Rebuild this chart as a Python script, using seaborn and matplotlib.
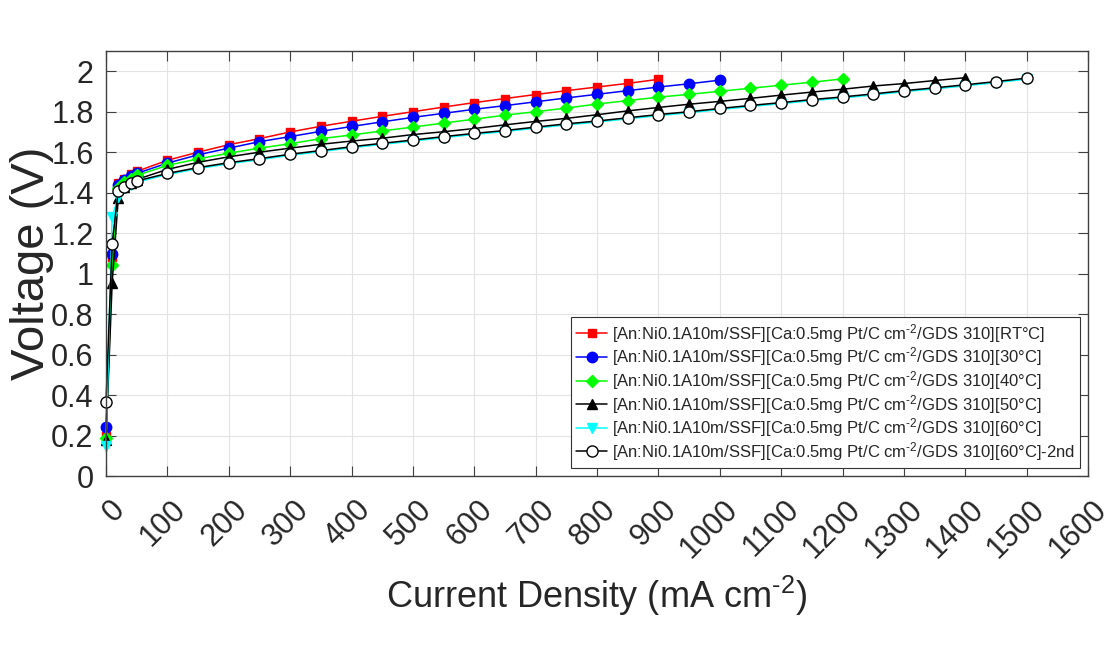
import matplotlib
matplotlib.use("Agg")
import matplotlib.pyplot as plt
import matplotlib.transforms as mtransforms
import seaborn as sns
import pandas as pd

# current density points (mA cm-2), shared by all runs
current = [0, 10, 20, 30, 40, 50, 100, 150, 200, 250, 300, 350, 400, 450, 500,
           550, 600, 650, 700, 750, 800, 850, 900, 950, 1000, 1050, 1100, 1150,
           1200, 1250, 1300, 1350, 1400, 1450, 1500]

v_rt = [0.20, 1.08, 1.45, 1.47, 1.49, 1.505, 1.56, 1.60, 1.637, 1.667, 1.70, 1.728,
        1.753, 1.777, 1.80, 1.823, 1.845, 1.865, 1.885, 1.904, 1.922, 1.94, 1.96]
v_30 = [0.24, 1.095, 1.44, 1.462, 1.48, 1.495, 1.546, 1.587, 1.62, 1.652, 1.677,
        1.703, 1.727, 1.75, 1.772, 1.792, 1.812, 1.83, 1.849, 1.868, 1.886, 1.904,
        1.922, 1.938, 1.956]
v_40 = [0.19, 1.044, 1.425, 1.452, 1.47, 1.485, 1.535, 1.567, 1.595, 1.62, 1.642,
        1.667, 1.685, 1.705, 1.724, 1.744, 1.763, 1.783, 1.80, 1.818, 1.838, 1.855,
        1.872, 1.886, 1.901, 1.916, 1.931, 1.946, 1.962]
v_50 = [0.18, 0.954, 1.373, 1.43, 1.45, 1.465, 1.515, 1.55, 1.577, 1.60, 1.62, 1.639,
        1.655, 1.669, 1.687, 1.701, 1.717, 1.735, 1.752, 1.767, 1.785, 1.804, 1.821,
        1.837, 1.851, 1.866, 1.882, 1.897, 1.911, 1.927, 1.939, 1.954, 1.968]
v_60 = [0.15, 1.28, 1.38, 1.425, 1.44, 1.452, 1.49, 1.519, 1.543, 1.563, 1.585,
        1.603, 1.622, 1.639, 1.655, 1.672, 1.688, 1.702, 1.719, 1.735, 1.749, 1.765,
        1.781, 1.795, 1.811, 1.826, 1.84, 1.855, 1.868, 1.883, 1.899, 1.913, 1.928,
        1.944, 1.961]
v_60b = [0.365, 1.148, 1.41, 1.43, 1.446, 1.458, 1.495, 1.524, 1.548, 1.568, 1.59,
         1.608, 1.627, 1.644, 1.66, 1.677, 1.693, 1.707, 1.724, 1.74, 1.754, 1.77,
         1.786, 1.80, 1.816, 1.831, 1.845, 1.86, 1.873, 1.888, 1.904, 1.918, 1.933,
         1.949, 1.966]

prefix = r"[An:Ni0.1A10m/SSF][Ca:0.5mg Pt/C cm$^{\text{-2}}$/GDS 310]"
labels = [prefix + "[RT°C]", prefix + "[30°C]", prefix + "[40°C]",
          prefix + "[50°C]", prefix + "[60°C]", prefix + "[60°C]-2nd"]
series = [v_rt, v_30, v_40, v_50, v_60, v_60b]
colors = ["#ff0000", "#0000ff", "#00ff00", "#000000", "#00ffff", "#000000"]
markers = ["s", "o", "D", "^", "v", "o"]
msizes = [6, 7.5, 6.5, 7.5, 7.5, 8]
faces = ["#ff0000", "#0000ff", "#00ff00", "#000000", "#00ffff", "white"]

sns.set_style("whitegrid")
plt.rcParams["font.family"] = ["Liberation Sans", "DejaVu Sans"]
plt.rcParams["mathtext.fontset"] = "custom"
plt.rcParams["mathtext.rm"] = "Liberation Sans"
plt.rcParams["mathtext.it"] = "Liberation Sans"

fig = plt.figure(figsize=(11.2, 6.48), dpi=100)
ax = fig.add_axes([106 / 1120, 1 - 476 / 648, (1088 - 106) / 1120, (476 - 51) / 648])

for v, lab, c, m, ms, fc in zip(series, labels, colors, markers, msizes, faces):
    df = pd.DataFrame({"current": current[:len(v)], "voltage": v})
    sns.lineplot(data=df, x="current", y="voltage", ax=ax, color=c, marker=m,
                 markersize=ms, markerfacecolor=fc, markeredgecolor=c,
                 markeredgewidth=1.0, linewidth=1.1, label=lab, sort=False,
                 estimator=None, clip_on=False)

ax.set_xlim(0, 1600)
ax.set_ylim(0, 2.1)
ax.set_xticks(range(0, 1601, 100))
ax.set_yticks([0, 0.2, 0.4, 0.6, 0.8, 1, 1.2, 1.4, 1.6, 1.8, 2])
ax.set_yticklabels(["0", "0.2", "0.4", "0.6", "0.8", "1", "1.2", "1.4", "1.6", "1.8", "2"])
ax.grid(True, color="#e3e3e3", linewidth=0.8)
for s in ax.spines.values():
    s.set_color("#404040")
    s.set_linewidth(1.0)
ax.tick_params(axis="both", which="both", direction="in", length=7, width=0.8,
               color="#404040", top=True, right=True, labelsize=22,
               labelcolor="#262626", bottom=True, left=True)
ax.tick_params(axis="x", pad=21)
ax.tick_params(axis="y", pad=9)

offset = mtransforms.ScaledTranslation(14 / 100, 0, fig.dpi_scale_trans)
for t in ax.get_xticklabels():
    t.set_rotation(45)
    t.set_ha("right")
    t.set_va("center")
    t.set_rotation_mode("anchor")
    t.set_transform(t.get_transform() + offset)

ax.set_xlabel(r"Current Density (mA cm$^{\text{-2}}$)", fontsize=26, color="#262626",
              labelpad=7)
ax.set_ylabel("Voltage (V)", fontsize=34, color="#262626", labelpad=-2)

leg = ax.legend(loc="lower right", fontsize=12, frameon=True, fancybox=False,
                framealpha=1, edgecolor="#333333", borderaxespad=0.5,
                handlelength=1.9, labelspacing=0.04, borderpad=0.3,
                handletextpad=0.25)
leg.get_frame().set_linewidth(0.8)

fig.savefig("out.png", dpi=100)
